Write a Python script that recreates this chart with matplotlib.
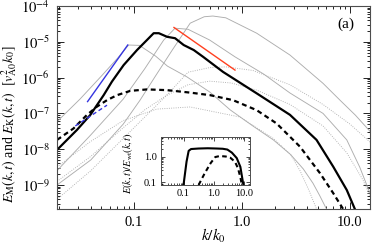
import numpy as np
import matplotlib
matplotlib.use("Agg")
import matplotlib.pyplot as plt
from matplotlib.ticker import LogLocator, FixedLocator, FixedFormatter, NullFormatter

plt.rcParams['font.family'] = ['Liberation Serif', 'DejaVu Serif']
plt.rcParams['mathtext.fontset'] = 'stix'

# ---- data (log10 values) ----
# thick solid: E_M at reference time
lk_m1 = [-1.713, -1.528, -1.404, -1.281, -1.204, -1.096, -0.972, -0.88, -0.818, -0.77, -0.694,
         -0.62, -0.54, -0.447, -0.36, -0.176, 0.136, 0.444, 0.69, 0.845, 0.97, 1.046]
le_m1 = [-8.02, -7.46, -7.04, -6.49, -6.11, -5.65, -5.23, -4.95, -4.76, -4.76, -4.86,
         -4.90, -5.09, -5.23, -5.42, -5.84, -6.44, -7.04, -7.74, -8.49, -9.14, -9.68]
# thick dashed: E_K at reference time
lk_k1 = [-1.713, -1.56, -1.435, -1.343, -1.25, -1.157, -1.034, -0.88, -0.694, -0.478, -0.296,
         -0.083, 0.136, 0.32, 0.537, 0.722, 0.845, 0.938]
le_k1 = [-7.74, -7.42, -7.04, -6.81, -6.63, -6.49, -6.37, -6.33, -6.35, -6.42, -6.49,
         -6.63, -6.91, -7.28, -7.93, -8.67, -9.23, -9.68]
# thin gray solid: E_M at other times
lk_mA = [-1.713, -1.5, -1.3, -1.15, -1.05, -0.95, -0.8, -0.69, -0.51, -0.3, -0.11, 0.1, 0.29,
         0.45, 0.567, 0.657, 0.72, 0.787]
le_mA = [-7.23, -6.6, -5.95, -5.45, -5.09, -5.1, -5.4, -5.68, -5.98, -6.4, -6.9, -7.35, -7.74,
         -8.15, -8.55, -8.95, -9.3, -9.7]
lk_mB = [-1.713, -1.4, -1.1, -0.9, -0.725, -0.62, -0.5, -0.3, -0.065, 0.2, 0.444, 0.75, 0.97,
         1.09, 1.185]
le_mB = [-8.6, -7.6, -6.6, -5.75, -4.95, -4.62, -4.65, -4.95, -5.42, -5.9, -6.43, -7.0, -7.74,
         -8.5, -9.23]
lk_mC = [-1.713, -1.4, -1.1, -0.944, -0.8, -0.65, -0.48, -0.35, -0.27, -0.15, 0.136, 0.444,
         0.75, 0.907, 1.05, 1.185]
le_mC = [-9.0, -8.3, -7.3, -6.63, -5.95, -5.25, -4.48, -4.3, -4.28, -4.33, -4.76, -5.37,
         -6.16, -6.63, -7.05, -7.5]
# thin gray dotted: E_K at other times
lk_kA = [-1.713, -1.41, -1.1, -0.79, -0.48, -0.02, 0.29, 0.45, 0.537, 0.62, 0.694]
le_kA = [-8.5, -7.8, -7.2, -6.88, -6.82, -7.1, -7.7, -8.15, -8.6, -9.15, -9.7]
lk_kB = [-1.713, -1.4, -1.1, -0.9, -0.7, -0.5, -0.3, -0.1, 0.136, 0.444, 0.75, 0.97, 1.12, 1.185]
le_kB = [-8.9, -8.2, -7.4, -6.9, -6.5, -6.2, -6.1, -6.15, -6.35, -6.75, -7.35, -8.1, -8.86, -9.3]
lk_kC = [-1.713, -1.4, -1.1, -0.9, -0.7, -0.5, -0.3, -0.15, 0.1, 0.444, 0.75, 1.0, 1.185]
le_kC = [-9.4, -8.6, -7.7, -7.1, -6.5, -5.85, -5.72, -5.7, -5.8, -6.2, -6.75, -7.3, -7.8]
# power-law guide segments
lk_fit_blue = [-1.43, -1.058]
le_fit_blue = [-6.67, -5.09]
lk_fit_blue_d = [-1.543, -1.25]
le_fit_blue_d = [-7.35, -6.77]
lk_fit_red = [-0.63, -0.065]
le_fit_red = [-4.60, -5.79]
# inset: ratio curves
lk_in_s = [-1.0, -0.9, -0.83, -0.75, -0.5, -0.2, 0.1, 0.3, 0.45, 0.6, 0.76, 0.88, 0.98]
ly_in_s = [-1.1, -0.2, 0.22, 0.29, 0.31, 0.32, 0.31, 0.30, 0.27, 0.15, -0.06, -0.4, -1.1]
lk_in_d = [-0.5, -0.3, -0.1, 0.05, 0.2, 0.4, 0.55, 0.7, 0.8, 0.88, 0.93]
ly_in_d = [-1.1, -0.65, -0.25, -0.02, 0.02, 0.0, -0.05, -0.2, -0.45, -0.8, -1.1]

xticks_main = [0.1, 1.0, 10.0]
xticklabels_main = ["0.1", "1.0", "10.0"]
yticks_main = [1e-9, 1e-8, 1e-7, 1e-6, 1e-5, 1e-4]
yticklabels_main = [r"$10^{-9}$", r"$10^{-8}$", r"$10^{-7}$", r"$10^{-6}$", r"$10^{-5}$", r"$10^{-4}$"]
xticks_in = [0.1, 1.0, 10.0]
xticklabels_in = ["0.1", "1.0", "10.0"]
yticks_in = [0.1, 1.0]
yticklabels_in = ["0.1", "1.0"]

def p(a):
    return 10.0 ** np.asarray(a)

W, H = 374, 249
fig = plt.figure(figsize=(W / 100, H / 100), dpi=100)
ax = fig.add_axes([57 / W, (H - 209) / H, (370 - 57) / W, (209 - 6) / H])

gray = '0.68'
for lk, le in [(lk_mA, le_mA), (lk_mB, le_mB), (lk_mC, le_mC)]:
    ax.plot(p(lk), p(le), color=gray, lw=0.65)
for lk, le in [(lk_kA, le_kA), (lk_kB, le_kB), (lk_kC, le_kC)]:
    ax.plot(p(lk), p(le), color=gray, lw=0.65, ls=(0, (1, 1.5)))
ax.plot(p(lk_m1), p(le_m1), color='k', lw=1.6)
ax.plot(p(lk_k1), p(le_k1), color='k', lw=1.6, ls=(0, (2.2, 1.6)))
ax.plot(p(lk_fit_blue), p(le_fit_blue), color='#3535e0', lw=1.0)
ax.plot(p(lk_fit_blue_d), p(le_fit_blue_d), color='#3535e0', lw=1.0, ls=(0, (3, 2)))
ax.plot(p(lk_fit_red), p(le_fit_red), color='#ff4020', lw=1.0)

ax.set_xscale('log')
ax.set_yscale('log')
ax.set_xlim(10 ** -1.713, 10 ** 1.185)
ax.set_ylim(10 ** -9.67, 1e-4)
ax.xaxis.set_major_locator(FixedLocator(xticks_main))
ax.xaxis.set_major_formatter(FixedFormatter(xticklabels_main))
ax.xaxis.set_minor_locator(LogLocator(base=10, subs=np.arange(2, 10), numticks=20))
ax.xaxis.set_minor_formatter(NullFormatter())
ax.yaxis.set_major_locator(FixedLocator(yticks_main))
ax.yaxis.set_major_formatter(FixedFormatter(yticklabels_main))
ax.yaxis.set_minor_locator(LogLocator(base=10, subs=np.arange(2, 10), numticks=20))
ax.yaxis.set_minor_formatter(NullFormatter())
ax.tick_params(which='both', direction='in', top=True, right=True, width=0.6, labelsize=10.5)
ax.tick_params(which='major', length=5, pad=5)
ax.tick_params(which='minor', length=2.5)
for s in ax.spines.values():
    s.set_linewidth(0.8)
    s.set_color('0.3')

fig.text(213 / W, 1 - 236 / H, r"$k/k_0$", ha='center', va='center', fontsize=11)
fig.text(9 / W, 1 - 124 / H, r"$E_{\rm M}(k,t)$ and $E_{\rm K}(k,t)$  $[v_{\rm A0}^2k_0]$",
         rotation=90, ha='center', va='center', fontsize=10)
fig.text(346 / W, 1 - 24 / H, "(a)", ha='center', va='center', fontsize=11)

# inset
axi = fig.add_axes([161 / W, (H - 185) / H, 89 / W, 48 / H])
axi.plot(p(lk_in_s), p(ly_in_s), color='k', lw=1.5)
axi.plot(p(lk_in_d), p(ly_in_d), color='k', lw=1.5, ls=(0, (2.2, 1.6)))
axi.set_xscale('log')
axi.set_yscale('log')
axi.set_xlim(0.018, 15.8)
axi.set_ylim(0.079, 5.7)
axi.xaxis.set_major_locator(FixedLocator(xticks_in))
axi.xaxis.set_major_formatter(FixedFormatter(xticklabels_in))
axi.xaxis.set_minor_locator(LogLocator(base=10, subs=np.arange(2, 10), numticks=20))
axi.xaxis.set_minor_formatter(NullFormatter())
axi.yaxis.set_major_locator(FixedLocator(yticks_in))
axi.yaxis.set_major_formatter(FixedFormatter(yticklabels_in))
axi.yaxis.set_minor_locator(LogLocator(base=10, subs=np.arange(2, 10), numticks=20))
axi.yaxis.set_minor_formatter(NullFormatter())
axi.tick_params(which='both', direction='in', top=True, right=True, width=0.5, labelsize=7.5, pad=3)
axi.tick_params(which='major', length=3)
axi.tick_params(which='minor', length=1.5)
for s in axi.spines.values():
    s.set_linewidth(0.7)
    s.set_color('0.3')
fig.text(128 / W, 1 - 163 / H, r"$E(k,t)/E_{\rm wt}(k,t)$", rotation=90, ha='center',
         va='center', fontsize=7.5)

fig.savefig("out.png", dpi=100)
